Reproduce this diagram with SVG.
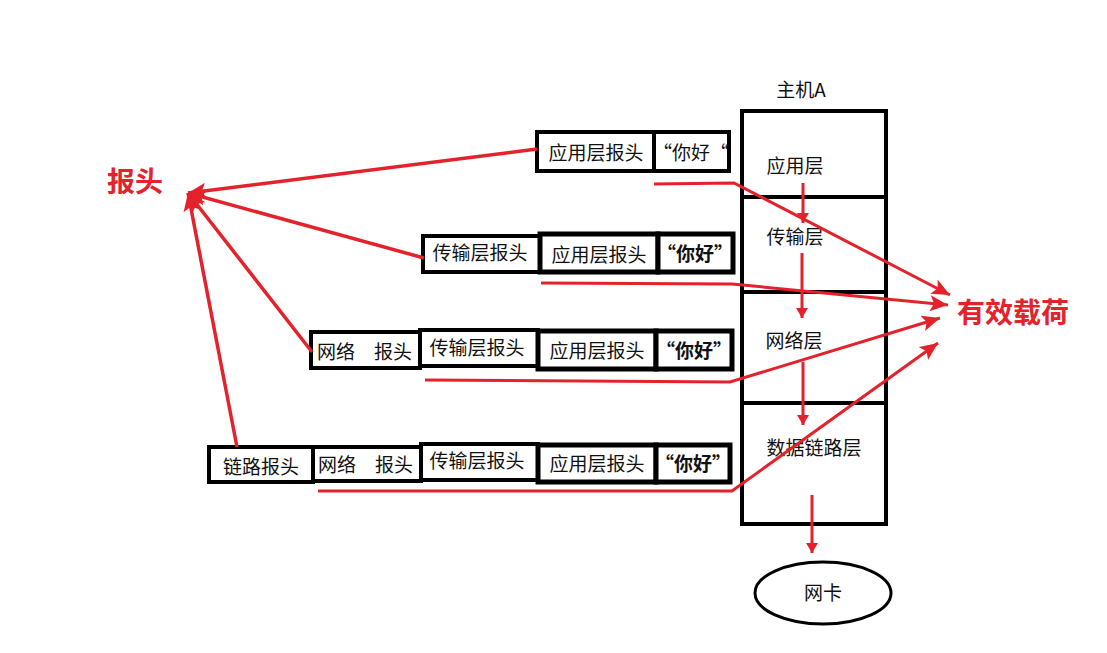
<svg xmlns="http://www.w3.org/2000/svg" width="1107" height="653" viewBox="0 0 1107 653">
<style>
.bx{fill:#fff;stroke:#000;stroke-width:4}
.bxb{fill:#fff;stroke:#000;stroke-width:5}
.t{font-family:"Noto Sans CJK SC","Microsoft YaHei",sans-serif;font-size:19px;fill:#111;text-anchor:middle}
.ts{text-anchor:start}
.tb{font-weight:bold}
.red{fill:none;stroke:#e3222b;stroke-width:3}
.redt{font-family:"Noto Sans CJK SC",sans-serif;font-size:28px;font-weight:bold;fill:#e3222b}
</style>
<defs>
<marker id="ah" markerUnits="userSpaceOnUse" markerWidth="20" markerHeight="16" refX="18" refY="8" orient="auto">
<path d="M0,0 L18,8 L0,16 L4,8 Z" fill="#e3222b"/>
</marker>
<marker id="as" markerUnits="userSpaceOnUse" markerWidth="12" markerHeight="12" refX="10" refY="6" orient="auto">
<path d="M0,0 L10,6 L0,12 Z" fill="#e3222b"/>
</marker>
</defs>
<rect width="1107" height="653" fill="#fff"/>

<g id="host">
<text class="t" x="801" y="97">主机A</text>
<rect class="bx" x="742" y="111" width="144" height="413"/>
<line x1="742" y1="197" x2="886" y2="197" stroke="#000" stroke-width="4"/>
<line x1="742" y1="292" x2="886" y2="292" stroke="#000" stroke-width="4"/>
<line x1="742" y1="403" x2="886" y2="403" stroke="#000" stroke-width="4"/>
<text class="t" x="795" y="173">应用层</text>
<text class="t" x="795" y="244">传输层</text>
<text class="t" x="794" y="348">网络层</text>
<text class="t" x="814" y="455">数据链路层</text>
</g>

<g id="nic">
<ellipse cx="823" cy="593" rx="68" ry="31" fill="#fff" stroke="#000" stroke-width="3"/>
<text class="t" x="823" y="600">网卡</text>
</g>

<g id="row1">
<rect class="bx" x="537" y="132" width="117" height="39"/>
<rect class="bx" x="654" y="132" width="75" height="39"/>
<text class="t" x="596" y="160">应用层报头</text>
<text class="t" x="691" y="160">“你好“</text>
</g>

<g id="row2">
<rect class="bx" x="423" y="236" width="117" height="36"/>
<rect class="bxb" x="540" y="234" width="118" height="38"/>
<rect class="bxb" x="658" y="234" width="75" height="38"/>
<text class="t" x="480" y="260">传输层报头</text>
<text class="t" x="599" y="262">应用层报头</text>
<text class="t tb" x="695" y="261">“你好”</text>
</g>

<g id="row3">
<rect class="bx" x="311" y="332" width="109" height="36"/>
<rect class="bx" x="420" y="330" width="118" height="36"/>
<rect class="bxb" x="538" y="331" width="118" height="38"/>
<rect class="bxb" x="656" y="331" width="76" height="38"/>
<text class="t ts" x="317" y="359">网络　报头</text>
<text class="t" x="477" y="355">传输层报头</text>
<text class="t" x="597" y="358">应用层报头</text>
<text class="t tb" x="694" y="358">“你好”</text>
</g>

<g id="row4">
<rect class="bx" x="209" y="447" width="104" height="35"/>
<rect class="bx" x="313" y="447" width="108" height="34"/>
<rect class="bx" x="421" y="444" width="117" height="36"/>
<rect class="bxb" x="538" y="445" width="118" height="37"/>
<rect class="bxb" x="656" y="445" width="74" height="37"/>
<text class="t" x="261" y="474">链路报头</text>
<text class="t ts" x="318" y="472">网络　报头</text>
<text class="t" x="477" y="468">传输层报头</text>
<text class="t" x="597" y="471">应用层报头</text>
<text class="t tb" x="693" y="471">“你好”</text>
</g>

<g id="labels">
<text class="redt" x="107" y="192">报头</text>
<text class="redt" x="957" y="323">有效载荷</text>
</g>

<g id="connectors">
<line class="red" x1="803" y1="183" x2="803" y2="223" marker-end="url(#as)"/>
<line class="red" x1="802" y1="253" x2="802" y2="318" marker-end="url(#as)"/>
<line class="red" x1="803" y1="362" x2="803" y2="425" marker-end="url(#as)"/>
<line class="red" x1="812" y1="495" x2="812" y2="553" marker-end="url(#as)"/>

<line class="red" style="stroke-width:3.5" x1="537" y1="149" x2="188" y2="193" marker-end="url(#ah)"/>
<line class="red" style="stroke-width:3.5" x1="424" y1="258" x2="188" y2="193" marker-end="url(#ah)"/>
<line class="red" style="stroke-width:3.5" x1="312" y1="352" x2="188" y2="193" marker-end="url(#ah)"/>
<line class="red" style="stroke-width:3.5" x1="237" y1="447" x2="188" y2="193" marker-end="url(#ah)"/>

<polyline class="red" points="654,184 734,183 950,295" marker-end="url(#ah)"/>
<polyline class="red" points="541,283 732,284 948,305" marker-end="url(#ah)"/>
<polyline class="red" points="425,380 730,382 940,318" marker-end="url(#ah)"/>
<polyline class="red" points="318,491 732,491 938,343" marker-end="url(#ah)"/>
</g>
</svg>
